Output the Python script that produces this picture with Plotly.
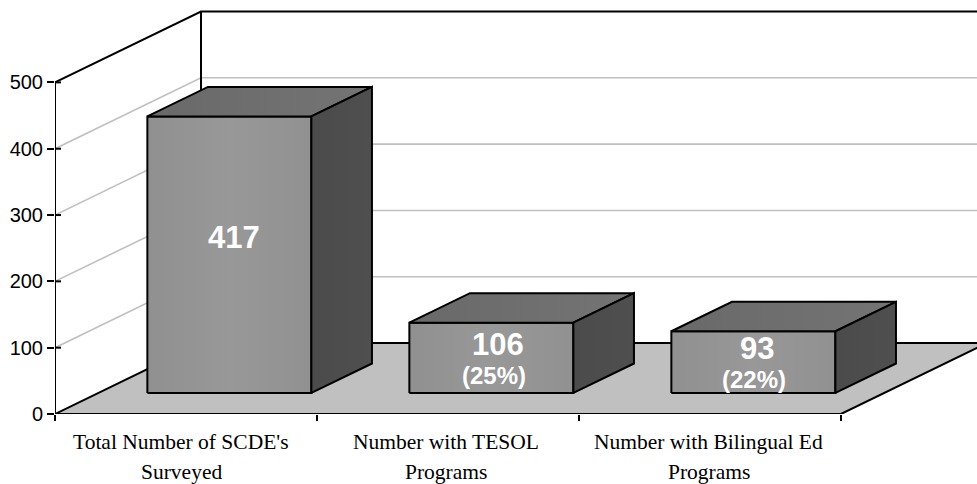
import plotly.graph_objects as go

# Survey counts
line_one = ["Total Number of SCDE's", "Number with TESOL", "Number with Bilingual Ed"]
line_two = ["Surveyed", "Programs", "Programs"]
values = [417, 106, 93]
shares = [None, "(25%)", "(22%)"]
value_ticks = [0, 100, 200, 300, 400, 500]

# Oblique projection: depth adds a fixed shift in category and value units
W, H = 977, 484
ORIGIN_X, ORIGIN_Y = 55, 414.5
PX_PER_CAT, PX_PER_VAL = 262, 0.664
DX, DY = 146 / PX_PER_CAT, 71 / PX_PER_VAL
BAR_W, BAR_NEAR, BAR_FAR = 0.626, 0.297, 0.712
YMAX = 500
STROKE = 2.0


def proj(x, y, d=0.0):
    return x + d * DX, y + d * DY


def poly(corners):
    pts = [proj(*c) for c in corners]
    pts.append(pts[0])
    return [p[0] for p in pts], [p[1] for p in pts]


fig = go.Figure()


def line(corners, color="black", width=STROKE):
    xs, ys = zip(*[proj(*c) for c in corners])
    fig.add_trace(go.Scatter(x=xs, y=ys, mode="lines", hoverinfo="skip", showlegend=False,
                             line=dict(color=color, width=width)))


def face(corners, gradient):
    xs, ys = poly(corners)
    fig.add_trace(go.Scatter(x=xs, y=ys, mode="lines", fill="toself", hoverinfo="skip", showlegend=False,
                             line=dict(color="black", width=STROKE),
                             fillgradient=dict(type="horizontal", colorscale=gradient)))


n = len(values)

# Floor
fx, fy = poly([(0, 0, 0), (n, 0, 0), (n, 0, 1), (0, 0, 1)])
fig.add_trace(go.Scatter(x=fx, y=fy, mode="lines", fill="toself", fillcolor="#c0c0c0", hoverinfo="skip",
                         showlegend=False, line=dict(color="rgba(0,0,0,0)", width=0)))

# Gridlines along the side wall and back wall
for v in value_ticks[1:-1]:
    line([(0, v, 0), (0, v, 1), (n, v, 1)], color="#c0c0c0", width=1.6)

# Wall and floor outlines
line([(0, YMAX, 0), (0, YMAX, 1), (n, YMAX, 1)])
line([(0, 0, 1), (0, YMAX, 1)])
line([(0, 0, 0), (0, YMAX, 0)])
line([(0, 0, 0), (0, 0, 1), (n, 0, 1)])
line([(n, 0, 0), (n, 0, 1)])
line([(0, 0, 0), (n, 0, 0)])

# Short inner half of each value tick
for v in value_ticks:
    fig.add_trace(go.Scatter(x=[0, 6 / PX_PER_CAT], y=[v, v], mode="lines", hoverinfo="skip", showlegend=False,
                             line=dict(color="black", width=STROKE)))

FRONT = [[0, "#909090"], [0.5, "#989898"], [1, "#919191"]]
TOP = [[0, "#696969"], [1, "#747474"]]
SIDE = [[0, "#4b4b4b"], [1, "#4f4f4f"]]

for i, v in enumerate(values):
    l = i + (1 - BAR_W) / 2
    r = l + BAR_W
    face([(l, 0, BAR_NEAR), (r, 0, BAR_NEAR), (r, v, BAR_NEAR), (l, v, BAR_NEAR)], FRONT)
    face([(l, v, BAR_NEAR), (r, v, BAR_NEAR), (r, v, BAR_FAR), (l, v, BAR_FAR)], TOP)
    face([(r, 0, BAR_NEAR), (r, 0, BAR_FAR), (r, v, BAR_FAR), (r, v, BAR_NEAR)], SIDE)

annotations = []

# Bar value labels, placed on the front faces
value_offsets = [(5, -155), (7, -48), (4, -44)]
share_offsets = [None, (3, -17), (1, -13)]
for i, v in enumerate(values):
    cx, base = proj(i + 0.5, 0, BAR_NEAR)
    ox, oy = value_offsets[i]
    annotations.append(dict(x=cx, y=base, xref="x", yref="y", text=f"<b>{v}</b>", showarrow=False,
                            xshift=ox, yshift=-oy, xanchor="center", yanchor="middle",
                            font=dict(family="Liberation Sans", size=31, color="white")))
    if shares[i]:
        ox, oy = share_offsets[i]
        annotations.append(dict(x=cx, y=base, xref="x", yref="y", text=f"<b>{shares[i]}</b>", showarrow=False,
                                xshift=ox, yshift=-oy, xanchor="center", yanchor="middle",
                                font=dict(family="Liberation Sans", size=24, color="white")))

# Two-line category captions under the axis
caption_shift = [-5, -2, -1.5]
for i in range(n):
    for text, offset in ((line_one[i], -28), (line_two[i], -58)):
        annotations.append(dict(x=i + 0.5, y=0, xref="x", yref="y", text=text, showarrow=False,
                                xshift=caption_shift[i], yshift=offset, xanchor="center", yanchor="middle",
                                font=dict(family="Liberation Serif", size=21.5, color="black")))

fig.update_layout(
    width=W, height=H,
    margin=dict(l=ORIGIN_X, r=0, t=0, b=H - ORIGIN_Y, pad=0),
    paper_bgcolor="white", plot_bgcolor="white",
    showlegend=False, annotations=annotations,
    xaxis=dict(range=[0, (W - ORIGIN_X) / PX_PER_CAT], showgrid=False, zeroline=False, showline=False,
               tickvals=[], ticks="",
               minor=dict(tickvals=list(range(n + 1)), ticks="outside", ticklen=6, tickwidth=STROKE,
                          tickcolor="black", showgrid=False)),
    yaxis=dict(range=[0, ORIGIN_Y / PX_PER_VAL], showgrid=False, zeroline=False, showline=False,
               tickvals=value_ticks, ticks="outside", ticklen=7, tickwidth=STROKE, tickcolor="black",
               tickfont=dict(family="Liberation Sans", size=20, color="black")),
)

fig.write_html("out.html", config=dict(displayModeBar=False))
